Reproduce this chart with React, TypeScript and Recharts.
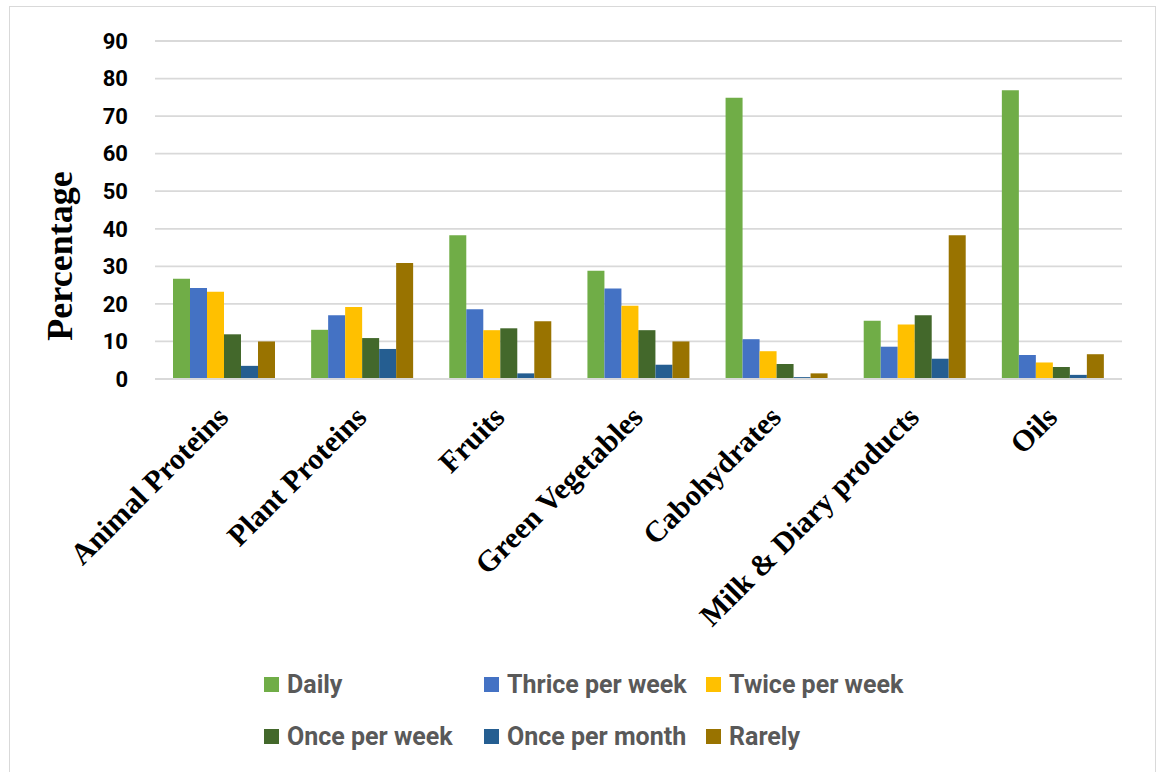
import { BarChart, Bar, XAxis, YAxis, CartesianGrid, Legend } from 'recharts'

const categories = [
  'Animal Proteins',
  'Plant Proteins',
  'Fruits',
  'Green Vegetables',
  'Cabohydrates',
  'Milk & Diary products',
  'Oils',
]
const daily = [26.7, 13.1, 38.3, 28.8, 74.9, 15.5, 76.9]
const thricePerWeek = [24.2, 17.0, 18.6, 24.1, 10.6, 8.6, 6.4]
const twicePerWeek = [23.2, 19.2, 13.0, 19.5, 7.4, 14.5, 4.4]
const oncePerWeek = [11.9, 10.9, 13.5, 13.0, 4.0, 17.0, 3.2]
const oncePerMonth = [3.5, 8.0, 1.5, 3.8, 0.5, 5.4, 1.1]
const rarely = [10.0, 30.9, 15.4, 10.0, 1.5, 38.3, 6.6]
const yTicks = [0, 10, 20, 30, 40, 50, 60, 70, 80, 90]

const series = [
  { key: 'daily', name: 'Daily', values: daily, color: '#70AD47' },
  { key: 'thrice', name: 'Thrice per week', values: thricePerWeek, color: '#4472C4' },
  { key: 'twice', name: 'Twice per week', values: twicePerWeek, color: '#FFC000' },
  { key: 'onceWeek', name: 'Once per week', values: oncePerWeek, color: '#43682B' },
  { key: 'onceMonth', name: 'Once per month', values: oncePerMonth, color: '#255E91' },
  { key: 'rarely', name: 'Rarely', values: rarely, color: '#997300' },
]

const data = categories.map((name, i) => {
  const row: Record<string, string | number> = { name }
  series.forEach((s) => {
    row[s.key] = s.values[i]
  })
  return row
})

const serif = '"Liberation Serif", "Times New Roman", serif'
const sans = 'Roboto, "Liberation Sans", Arial, sans-serif'

function CategoryTick({ x, y, payload }: any) {
  return (
    <g transform={`translate(${x + 6},${y + 32})`}>
      <text
        textAnchor="end"
        transform="rotate(-45)"
        fontFamily={serif}
        fontWeight="bold"
        fontSize={30}
        fill="#000"
      >
        {payload.value}
      </text>
    </g>
  )
}

function YLabel({ viewBox }: any) {
  const cx = 60
  const cy = viewBox.y + viewBox.height / 2 + 46
  return (
    <text
      x={cx}
      y={cy}
      transform={`rotate(-90, ${cx}, ${cy})`}
      textAnchor="middle"
      dominantBaseline="central"
      fontFamily={serif}
      fontWeight="bold"
      fontSize={36}
      fill="#000"
    >
      Percentage
    </text>
  )
}

function LegendGrid({ payload }: any) {
  const items = [...(payload || [])].sort(
    (a: any, b: any) =>
      series.findIndex((s) => s.name === a.value) - series.findIndex((s) => s.name === b.value),
  )
  return (
    <div
      style={{
        display: 'grid',
        gridTemplateColumns: '220px 222px auto',
        rowGap: 24,
        fontFamily: sans,
        fontWeight: 'bold',
        fontSize: 25,
        color: '#595959',
        whiteSpace: 'nowrap',
      }}
    >
      {items.map((p: any) => (
        <div key={p.value} style={{ display: 'flex', alignItems: 'center', height: 28 }}>
          <span style={{ width: 15, height: 15, background: p.color, marginRight: 8, display: 'inline-block' }} />
          <span>{p.value}</span>
        </div>
      ))}
    </div>
  )
}

export default function App() {
  return (
    <div style={{ position: 'absolute', left: 0, top: 0, width: 1163, height: 772, background: '#fff' }}>
      <div
        style={{
          position: 'absolute',
          left: 9,
          top: 6,
          width: 1147,
          height: 770,
          border: '1.5px solid #d9d9d9',
          boxSizing: 'border-box',
        }}
      />
      <BarChart
        width={1163}
        height={772}
        data={data}
        margin={{ top: 41, right: 41, left: 0, bottom: 0 }}
        barCategoryGap={18}
        barGap={0}
        style={{ position: 'absolute', left: 0, top: 0 }}
      >
        <CartesianGrid vertical={false} stroke="#d9d9d9" strokeWidth={1.8} />
        <XAxis
          dataKey="name"
          height={393}
          interval={0}
          tickLine={false}
          axisLine={{ stroke: '#d9d9d9', strokeWidth: 1.8 }}
          tick={<CategoryTick />}
        />
        <YAxis
          width={155}
          domain={[0, 90]}
          ticks={yTicks}
          interval={0}
          axisLine={false}
          tickLine={false}
          tickSize={0}
          tickMargin={27}
          tick={{ fontFamily: sans, fontWeight: 'bold', fontSize: 22, fill: '#000' }}
          label={<YLabel />}
        />
        <Legend
          layout="horizontal"
          verticalAlign="middle"
          align="center"
          content={<LegendGrid />}
          wrapperStyle={{ position: 'absolute', left: 264, top: 670, width: 760 }}
        />
        {series.map((s) => (
          <Bar key={s.key} dataKey={s.key} name={s.name} fill={s.color} isAnimationActive={false} />
        ))}
      </BarChart>
    </div>
  )
}
